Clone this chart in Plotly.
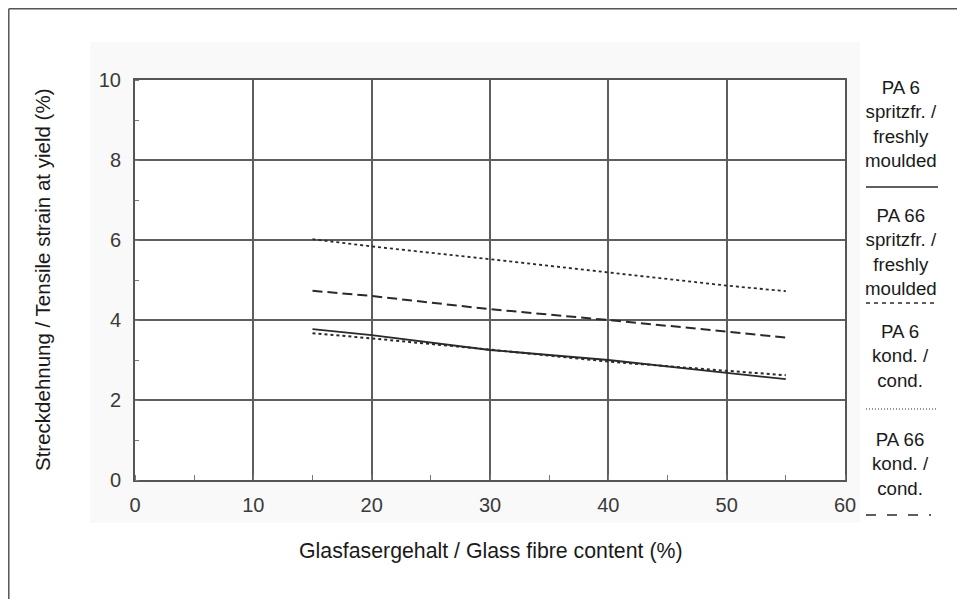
import plotly.graph_objects as go

# Data
glass_fibre = [15, 20, 30, 40, 50, 55]
pa6_fresh = [3.77, 3.62, 3.25, 3.00, 2.68, 2.52]
pa66_fresh = [3.67, 3.54, 3.26, 2.96, 2.73, 2.62]
pa6_cond = [6.02, 5.84, 5.52, 5.19, 4.86, 4.72]
pa66_cond = [4.73, 4.60, 4.27, 4.00, 3.71, 3.56]

x_ticks = [0, 10, 20, 30, 40, 50, 60]
y_ticks = [0, 2, 4, 6, 8, 10]

legend_labels = [
    "PA 6<br>spritzfr. /<br>freshly<br>moulded",
    "PA 66<br>spritzfr. /<br>freshly<br>moulded",
    "PA 6<br>kond. /<br>cond.",
    "PA 66<br>kond. /<br>cond.",
]

x_title = "Glasfasergehalt / Glass fibre content (%)"
y_title = "Streckdehnung / Tensile strain at yield (%)"

# the page body has an 8px margin; work in screen coordinates and subtract it
OFF = 8
W, H = 965 - OFF, 599 - OFF
L, R, T, B = 135 - OFF, 845 - OFF, 80 - OFF, 480 - OFF

def px(x):
    return (x - OFF - L) / (R - L)

def py(y):
    return (B - (y - OFF)) / (B - T)

LINE_COL = "#2a2a2a"
FONT = "Liberation Sans, Arial, Helvetica, sans-serif"

fig = go.Figure()
series = [
    (pa6_cond, "dot", 1.8),
    (pa66_cond, "10px,5px", 2.0),
    (pa6_fresh, "solid", 1.8),
    (pa66_fresh, "3px,3px", 2.0),
]
for ys, dash, w in series:
    fig.add_trace(go.Scatter(x=glass_fibre, y=ys, mode="lines",
                             line=dict(color=LINE_COL, width=w, dash=dash),
                             showlegend=False, hoverinfo="skip"))

shapes = []
# faint grey backdrop behind the chart
shapes.append(dict(type="rect", xref="paper", yref="paper",
                   x0=px(90), x1=px(860), y0=py(523), y1=py(42),
                   fillcolor="#f9f9f9", line=dict(width=0), layer="below"))
# white plot area
shapes.append(dict(type="rect", xref="paper", yref="paper",
                   x0=0, x1=1, y0=0, y1=1,
                   fillcolor="white", line=dict(width=0), layer="below"))
# outer frame (left and top)
shapes.append(dict(type="line", xref="paper", yref="paper",
                   x0=px(8.8), x1=px(8.8), y0=py(8.8), y1=py(620),
                   line=dict(color="#555555", width=1.5)))
shapes.append(dict(type="line", xref="paper", yref="paper",
                   x0=px(8.8), x1=px(990), y0=py(8.8), y1=py(8.8),
                   line=dict(color="#555555", width=1.5)))

# legend samples
leg_lines = [(187, "solid", 1.3), (303, "4px,4px", 1.3), (409, "1px,2px", 1.2),
             (515, "10px,11px,10px,11px,10px,11px,2px", 1.3)]
for yy, dash, w in leg_lines:
    shapes.append(dict(type="line", xref="paper", yref="paper",
                       x0=px(866), x1=px(938), y0=py(yy), y1=py(yy),
                       line=dict(color=LINE_COL, width=w, dash=dash)))

annotations = []
leg_centers = [124, 252, 356, 464]
for lab, yc in zip(legend_labels, leg_centers):
    annotations.append(dict(text=lab, xref="paper", yref="paper",
                            x=px(901), y=py(yc), xanchor="center", yanchor="middle",
                            showarrow=False, align="center",
                            font=dict(family=FONT, size=18.7, color="#1a1a1a")))
annotations.append(dict(text=x_title, xref="paper", yref="paper",
                        x=px(491), y=py(551), xanchor="center", yanchor="middle",
                        showarrow=False,
                        font=dict(family=FONT, size=21.3, color="#1a1a1a")))
annotations.append(dict(text=y_title, xref="paper", yref="paper",
                        x=px(42), y=py(280), xanchor="center", yanchor="middle",
                        showarrow=False, textangle=-90,
                        font=dict(family=FONT, size=20.5, color="#1a1a1a")))

fig.update_layout(
    width=W, height=H,
    margin=dict(l=L, r=W - R, t=T, b=H - B),
    paper_bgcolor="white", plot_bgcolor="white",
    shapes=shapes, annotations=annotations,
    font=dict(family=FONT),
    xaxis=dict(range=[0, 60], tickvals=x_ticks, ticks="",
               showgrid=True, gridcolor="#5e5e5e", gridwidth=1.5,
               showline=True, linecolor="#555555", linewidth=2, mirror=True,
               zeroline=False, ticklabelstandoff=6,
               tickfont=dict(size=20, color="#3a3a3a", family=FONT),
               minor=dict(dtick=5, ticks="inside", ticklen=5, tickcolor="#777777",
                          showgrid=False)),
    yaxis=dict(range=[0, 10], tickvals=y_ticks, ticks="",
               showgrid=True, gridcolor="#5e5e5e", gridwidth=1.5,
               showline=True, linecolor="#555555", linewidth=2, mirror=True,
               zeroline=False, ticklabelstandoff=8,
               tickfont=dict(size=20, color="#3a3a3a", family=FONT),
               minor=dict(dtick=1, ticks="inside", ticklen=4, tickcolor="#777777",
                          showgrid=False)),
)

fig.write_html("out.html")
